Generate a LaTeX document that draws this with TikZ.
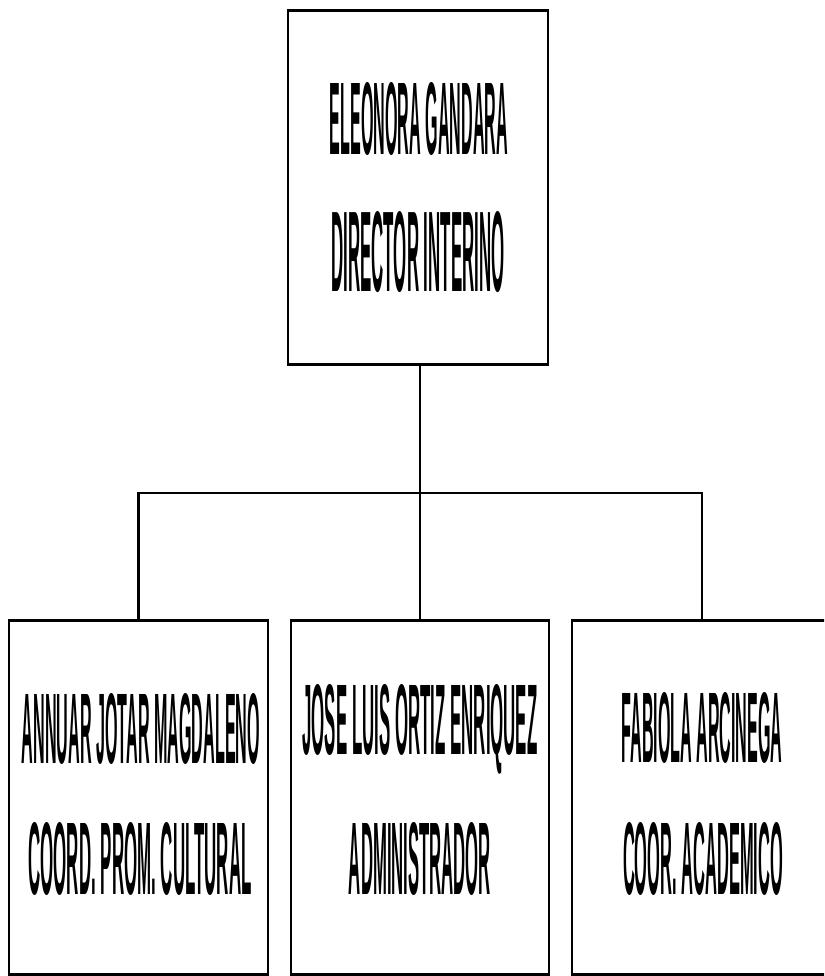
\documentclass[tikz,border=0pt]{standalone}
\usepackage{fontspec}
\setmainfont{Liberation Sans}
\usepackage{graphicx}
\newlength\pxu
\setlength\pxu{0.05cm}
\newcommand{\etiq}[3]{\resizebox{#1\pxu}{#2\pxu}{\bfseries #3}}

\begin{document}
\begin{tikzpicture}[x=0.05cm,y=-0.05cm,
  caja/.style={draw,line width=4pt,minimum width=259\pxu,minimum height=354\pxu,inner sep=0pt},
  texto/.style={inner sep=0pt},
  linea/.style={line width=3.4pt}]
\useasboundingbox (0,0) rectangle (824,976);
\clip (0,0) rectangle (824,976);

% director
\node[caja,minimum width=260\pxu] (dir) at (418,187.5) {};
\node[texto] (dirnom) at (419,119) {\etiq{178}{72}{ELEONORA GANDARA}};
\node[texto] (dircar) at (418,252) {\etiq{173}{80}{DIRECTOR INTERINO}};

% coordinadores
\node[caja] (prom) at (138.5,797.5) {};
\node[texto] (promnom) at (141,729) {\etiq{238}{70}{ANNUAR JOTAR MAGDALENO}};
\node[texto] (promcar) at (140,859) {\etiq{223}{72}{COORD. PROM. CULTURAL}};

\node[caja,minimum width=258\pxu] (adm) at (420,797.5) {};
\node[texto] (admnom) at (420,729) {\etiq{235}{70}{JOSE LUIS ORTIZ ENRIQUEZ}};
\node[texto] (admcar) at (420,859) {\etiq{142}{72}{ADMINISTRADOR}};

\node[caja,minimum width=260\pxu] (acad) at (702,797.5) {};
\node[texto] (acadnom) at (702,728) {\etiq{161}{70}{FABIOLA ARCINEGA}};
\node[texto] (acadcar) at (703,859) {\etiq{160}{72}{COOR. ACADEMICO}};

% lineas
\coordinate (bus) at (420,493);
\draw[linea] (dir.south -| bus) -- (bus);
\draw[linea] (prom.north) |- (bus) -| (acad.north);
\draw[linea] (bus) -- (adm.north);
\end{tikzpicture}
\end{document}
